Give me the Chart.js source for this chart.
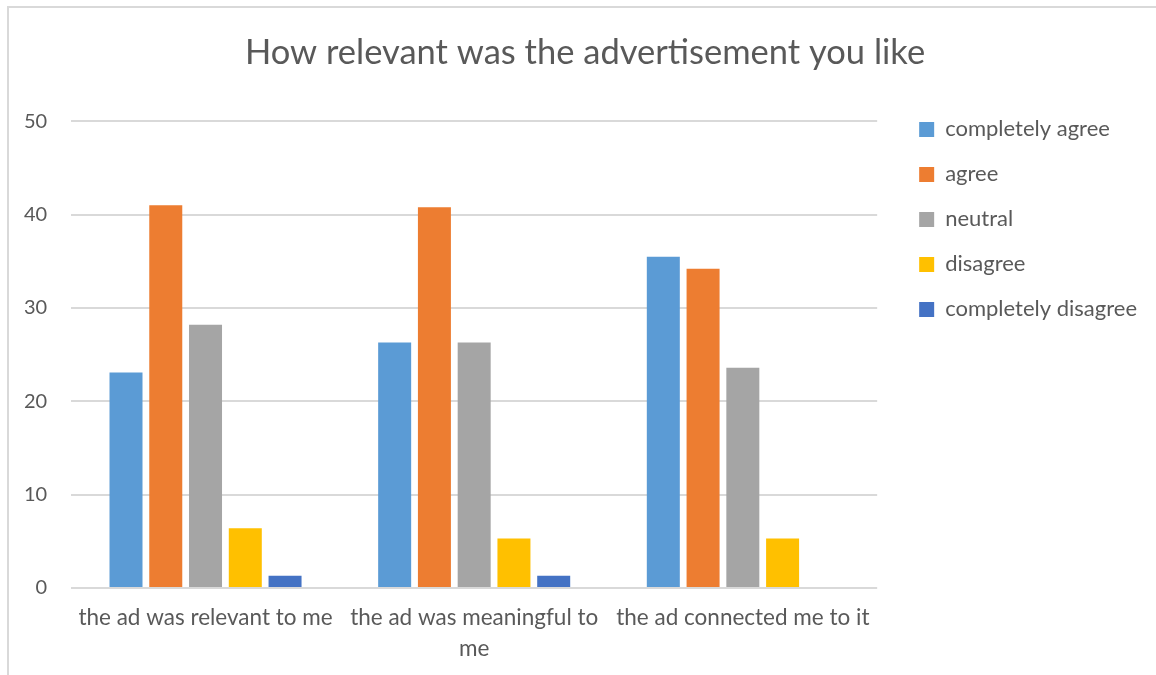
<!DOCTYPE html>
<html>
<head>
<meta charset="utf-8">
<title>How relevant was the advertisement you like</title>
<script src="https://cdn.jsdelivr.net/npm/chart.js@4/dist/chart.umd.min.js"></script>
<style>
  html, body { margin: 0; padding: 0; background: #fff; overflow: hidden; }
  #frame {
    position: absolute; left: 7px; top: 6px;
    width: 1160px; height: 680px;
    border-left: 2px solid #d9d9d9; border-top: 2px solid #d9d9d9;
    box-sizing: border-box;
  }
  #wrap { position: absolute; left: 0; top: 0; width: 1156px; height: 675px; }
</style>
</head>
<body>
<div id="frame"></div>
<div id="wrap"><canvas id="adChart"></canvas></div>
<script>
const categories = [
  'the ad was relevant to me',
  ['the ad was meaningful to', 'me'],
  'the ad connected me to it'
];
const seriesNames = ['completely agree', 'agree', 'neutral', 'disagree', 'completely disagree'];
const completelyAgree = [23.1, 26.3, 35.5];
const agree = [41.0, 40.8, 34.2];
const neutral = [28.2, 26.3, 23.6];
const disagree = [6.4, 5.3, 5.3];
const completelyDisagree = [1.3, 1.3, 0];
const yTicks = [0, 10, 20, 30, 40, 50];

const colors = ['#5b9bd5', '#ed7d31', '#a5a5a5', '#ffc000', '#4472c4'];
const values = [completelyAgree, agree, neutral, disagree, completelyDisagree];

const font = "Lato, 'Open Sans', sans-serif";
const textColor = '#595959';

// nudge the legend block (further from the plot, level with its top)
// and centre the title over the whole frame
const blockNudge = {
  id: 'blockNudge',
  afterLayout(chart) {
    const lg = chart.legend;
    if (lg) {
      lg.left += 19; lg.right += 19;
      lg.top -= 26; lg.bottom -= 26;
    }
    const tb = chart.titleBlock;
    if (tb) {
      tb.left = 0; tb.right = chart.width + 14;
    }
  }
};

new Chart(document.getElementById('adChart'), {
  type: 'bar',
  data: {
    labels: categories,
    datasets: seriesNames.map((name, i) => ({
      label: name,
      data: values[i],
      backgroundColor: colors[i],
      borderWidth: 0,
      categoryPercentage: 0.74,
      barPercentage: 0.83
    }))
  },
  options: {
    responsive: true,
    maintainAspectRatio: false,
    animation: false,
    layout: { padding: { left: 0, right: 28, top: 6, bottom: -3 } },
    plugins: {
      title: {
        display: true,
        text: 'How relevant was the advertisement you like',
        color: textColor,
        font: { family: font, size: 34.5, weight: 'normal' },
        padding: { top: 26, bottom: 48 }
      },
      legend: {
        position: 'right',
        align: 'start',
        fullSize: false,
        labels: {
          color: textColor,
          font: { family: font, size: 22 },
          boxWidth: 15,
          boxHeight: 15,
          padding: 23
        }
      },
      tooltip: { enabled: false }
    },
    scales: {
      x: {
        grid: { display: false, drawTicks: false },
        border: { display: false },
        ticks: {
          color: textColor,
          font: { family: font, size: 22.5, lineHeight: 1.38 },
          padding: 14,
          maxRotation: 0
        }
      },
      y: {
        min: 0,
        max: 50,
        afterBuildTicks: axis => { axis.ticks = yTicks.map(v => ({ value: v })); },
        grid: { color: '#d9d9d9', lineWidth: 2, drawTicks: false },
        border: { display: false },
        ticks: {
          color: textColor,
          font: { family: font, size: 20 },
          padding: 24
        }
      }
    }
  },
  plugins: [blockNudge]
});
</script>
</body>
</html>
